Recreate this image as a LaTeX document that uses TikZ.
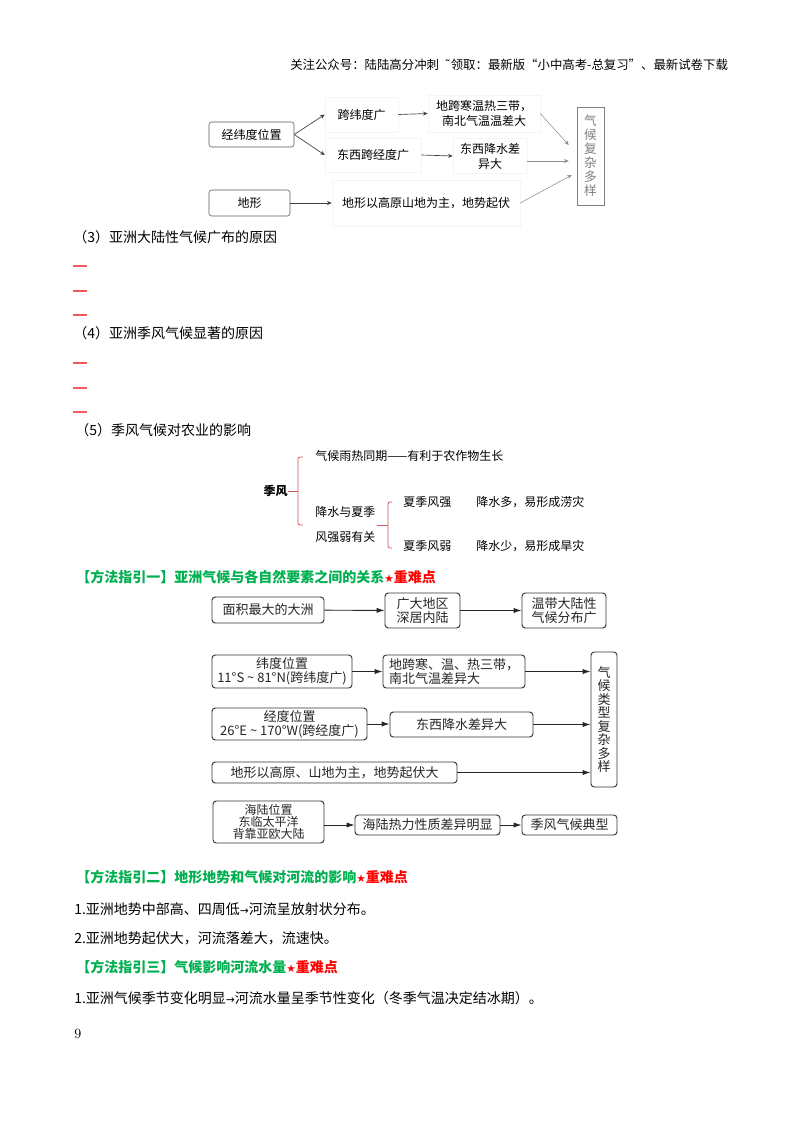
\documentclass[tikz,border=0pt]{standalone}
\usepackage{fontspec}
\newfontfamily\cjk{Noto Sans CJK SC}
\newfontfamily\dejavu{DejaVu Sans}
\usetikzlibrary{arrows.meta,calc}
\definecolor{zhgreen}{RGB}{0,176,80}
\definecolor{zhred}{RGB}{255,0,0}
\definecolor{dashred}{RGB}{240,90,90}
\definecolor{brkred}{RGB}{205,90,95}
\definecolor{boxgray}{RGB}{90,90,90}

\begin{document}
\begin{tikzpicture}[x=0.75pt, y=-0.75pt, >=Stealth, font=\cjk]
  \tikzset{
    sz/.style 2 args={minimum width={#1*0.75pt}, minimum height={#2*0.75pt}},
    hdr/.style={anchor=west, inner sep=0pt, font=\cjk\fontsize{9.3}{11}\selectfont},
    txt/.style={anchor=west, inner sep=0pt, font=\cjk\fontsize{10.5}{12}\selectfont},
    sect/.style={anchor=west, inner sep=0pt, text=zhgreen, font=\cjk\bfseries\fontsize{10.5}{12}\selectfont},
    dbox/.style={draw=boxgray, rounded corners=2pt, inner sep=1pt, align=center, font=\cjk\fontsize{9}{11.25}\selectfont},
    faint/.style={draw=black!4, inner sep=1pt, align=center, font=\cjk\fontsize{9}{11.25}\selectfont},
    cbox/.style={draw=black!50, text=black!50, inner sep=1pt, align=center, font=\cjk\fontsize{9.5}{10.5}\selectfont},
    garr/.style={-{Stealth[length=3.5pt,width=3pt]}, draw=black!75, line width=0.5pt},
    larr/.style={-{Stealth[length=3.5pt,width=3pt]}, draw=black!45, line width=0.4pt},
    mtxt/.style={anchor=west, inner sep=0pt, font=\cjk\fontsize{9}{11}\selectfont},
    brk/.style={draw=brkred, line width=0.6pt, rounded corners=1.5pt},
    sbox/.style={draw=black!80, line width=0.7pt, rounded corners=2.5pt, inner sep=1pt, align=center, text=black!85, font=\cjk\fontsize{9.75}{10.5}\selectfont},
    sarr/.style={-{Latex[length=6pt,width=4pt]}, draw=black!85, line width=0.7pt},
    blank/.style={draw=dashred, line width=0.8pt}
  }
  \fill[white] (0,0) rectangle (800,1132);
  \useasboundingbox (0,0) rectangle (800,1132);

  % page header
  \node[hdr] (top) at (290,65) {关注公众号：陆陆高分冲刺\ \ {\dejavu ˜}领取：最新版“小中高考-总复习”、最新试卷下载};

  % climate diversity map
  \node[dbox, sz={85}{25}] (jwd) at (251.5,134.5) {经纬度位置};
  \node[dbox, sz={81}{26}] (dix) at (249.5,203) {地形};
  \node[faint, sz={73}{35}] (kwd) at (361.5,114.5) {跨纬度广};
  \node[faint, sz={96}{34}] (kjd) at (373,155) {东西跨经度广};
  \node[faint, sz={112}{37}] (sdai) at (484,113.5) {地跨寒温热三带，\\南北气温温差大};
  \node[faint, sz={74}{35}] (jsc) at (490,156) {东西降水差\\异大};
  \node[faint, sz={188}{46}] (dsq) at (426,203) {地形以高原山地为主，地势起伏};
  \node[cbox, sz={27}{98}] (fz) at (590.5,156) {气\\候\\复\\杂\\多\\样};
  \draw[garr] (jwd.east) -- (kwd.west);
  \draw[garr] (jwd.east) -- (kjd.west);
  \draw[garr] (kwd.east) -- (sdai.west);
  \draw[garr] (kjd.east) -- (jsc.west);
  \draw[garr] (dix.east) -- (dix.east -| dsq.west);
  \draw[larr] (sdai.east) -- ($(fz.west)+(-8,-11)$);
  \draw[larr] ($(jsc.east)+(0,5)$) -- ($(fz.west)+(-8,5)$);
  \draw[larr] (dsq.east) -- ($(fz.west)+(-5,19)$);

  % questions (3) and (4)
  \node[txt] (q3) at (73,237) {（3）亚洲大陆性气候广布的原因};
  \foreach \yy in {266,291,315} \draw[blank] (73,\yy) -- (87,\yy);
  \node[txt] (q4) at (73,333) {（4）亚洲季风气候显著的原因};
  \foreach \yy in {363,388,412} \draw[blank] (73,\yy) -- (87,\yy);
  \node[txt] (q5) at (75,430) {（5）季风气候对农业的影响};

  % monsoon and agriculture
  \node[mtxt, anchor=center, font=\cjk\bfseries\fontsize{9}{11}\selectfont] (jf) at (275.5,491) {季风};
  \coordinate (b1) at (298,491);
  \draw[brk] (jf.east) -- (b1);
  \draw[brk] (303,457) -| (298,525) -- ++(5,0);
  \node[mtxt] (yr) at (315,456) {气候雨热同期——有利于农作物生长};
  \node[mtxt, align=left, font=\cjk\fontsize{9}{18.75}\selectfont] (jsx) at (315,524) {降水与夏季\\风强弱有关};
  \coordinate (b2) at (388,525);
  \draw[brk] ($(jsx.east)+(1,1)$) -- (b2);
  \draw[brk] (392,502) -| (388,548) -- ++(4,0);
  \node[mtxt] (qs) at (403,502) {夏季风强};
  \node[mtxt] (qsr) at (476,502) {降水多，易形成涝灾};
  \node[mtxt] (rs) at (403,546) {夏季风弱};
  \node[mtxt] (rsr) at (476,546) {降水少，易形成旱灾};

  % method guide 1
  \node[sect] (m1) at (76,577) {【方法指引一】亚洲气候与各自然要素之间的关系{\dejavu\color{zhred}\fontsize{8}{10}\selectfont★}\textcolor{zhred}{重难点}};
  \node[sbox, sz={112}{26}] (mj) at (268,610) {面积最大的大洲};
  \node[sbox, sz={75}{35}] (gd) at (422.5,610.5) {广大地区\\深居内陆};
  \node[sbox, sz={84}{35}] (wd) at (564,610.5) {温带大陆性\\气候分布广};
  \draw[sarr] (mj) -- (gd);
  \draw[sarr] (gd) -- (wd);

  \node[sbox, sz={140}{33}] (wdw) at (282,671.5) {纬度位置\\11°S \textasciitilde\ 81°N(跨纬度广)};
  \node[sbox, sz={142}{33}, align=left] (dkh) at (454,671.5) {地跨寒、温、热三带，\\南北气温差异大};
  \node[sbox, sz={155}{32}] (jdw) at (289.5,724) {经度位置\\26°E \textasciitilde\ 170°W(跨经度广)};
  \node[sbox, sz={143}{25}] (dxj) at (461.5,724.5) {东西降水差异大};
  \node[sbox, sz={245}{21}] (dxs) at (334.5,772.5) {地形以高原、山地为主，地势起伏大};
  \node[sbox, sz={26}{135}, font=\cjk\fontsize{9.75}{10.1}\selectfont] (lx) at (604,719.5) {气\\候\\类\\型\\复\\杂\\多\\样};
  \draw[sarr] (wdw) -- (wdw -| dkh.west);
  \draw[sarr] (dkh) -- (dkh -| lx.west);
  \draw[sarr] (jdw) -- (jdw -| dxj.west);
  \draw[sarr] (dxj) -- (dxj -| lx.west);
  \draw[sarr] (dxs) -- (dxs -| lx.west);

  \node[sbox, sz={111}{42}, font=\cjk\fontsize{9}{9}\selectfont] (hlw) at (268.5,822) {海陆位置\\东临太平洋\\背靠亚欧大陆};
  \node[sbox, sz={145}{20}] (rl) at (427.5,825) {海陆热力性质差异明显};
  \node[sbox, sz={95}{20}] (jfd) at (569.5,825) {季风气候典型};
  \draw[sarr] (hlw.east |- rl) -- (rl);
  \draw[sarr] (rl) -- (jfd);

  % method guides 2 and 3
  \node[sect] (m2) at (76,877) {【方法指引二】地形地势和气候对河流的影响{\dejavu\color{zhred}\fontsize{8}{10}\selectfont★}\textcolor{zhred}{重难点}};
  \node[txt] (l1) at (74,909) {1.亚洲地势中部高、四周低{\dejavu\fontsize{8}{10}\selectfont →}河流呈放射状分布。};
  \node[txt] (l2) at (74,938) {2.亚洲地势起伏大，河流落差大，流速快。};
  \node[sect] (m3) at (76,967) {【方法指引三】气候影响河流水量{\dejavu\color{zhred}\fontsize{8}{10}\selectfont★}\textcolor{zhred}{重难点}};
  \node[txt] (l3) at (74,998) {1.亚洲气候季节变化明显{\dejavu\fontsize{8}{10}\selectfont →}河流水量呈季节性变化（冬季气温决定结冰期）。};

  \node[anchor=west, inner sep=0pt, font=\rmfamily\fontsize{10.5}{12}\selectfont] (pg) at (74,1034) {9};
\end{tikzpicture}
\end{document}
